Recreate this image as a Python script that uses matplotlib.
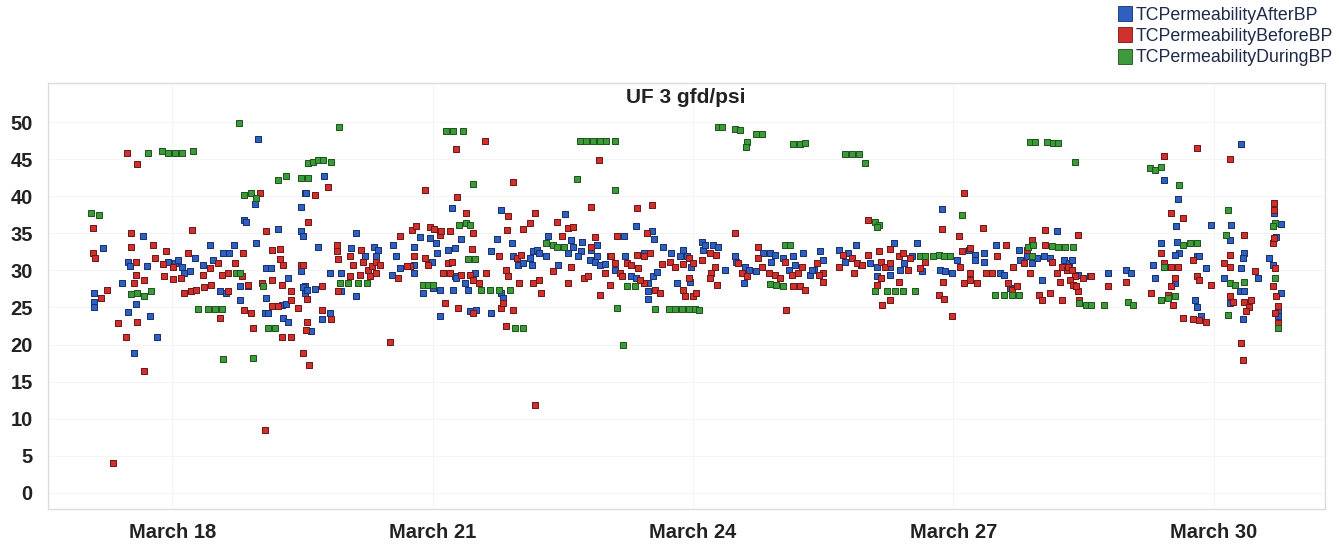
import matplotlib
matplotlib.use("Agg")
import matplotlib.pyplot as plt
from matplotlib.patches import Patch

plt.rcParams["font.family"] = ["Liberation Sans", "DejaVu Sans"]

# ---------------------------------------------------------------------------
# Permeability readings (day of March, gfd/psi)
# ---------------------------------------------------------------------------
after_bp = [
    (18.99, 47.7), (17.20, 33.0), (17.10, 27.0), (17.10, 25.8), (17.10, 25.1),
    (17.42, 28.3), (17.66, 34.7), (17.49, 31.1), (17.51, 30.6), (17.58, 25.5),
    (17.49, 24.4), (17.75, 23.9), (17.56, 18.9), (17.83, 21.0), (17.71, 30.6),
    (17.95, 31.2), (18.03, 31.0), (18.07, 31.45), (18.11, 30.5), (18.14, 29.7),
    (18.20, 29.9), (18.26, 31.7), (18.35, 30.8), (18.44, 33.5), (18.47, 31.4),
    (18.59, 32.4), (18.66, 32.4), (18.71, 33.5), (18.55, 27.2), (18.62, 27.0),
    (18.78, 27.9), (18.78, 26.0), (18.87, 27.9), (18.97, 33.7), (18.83, 36.8),
    (18.85, 36.6), (18.95, 39.0), (19.08, 26.3), (19.07, 24.3), (19.10, 24.3),
    (19.08, 30.3), (19.14, 30.3), (19.22, 35.6), (19.26, 25.4), (19.31, 25.5),
    (19.28, 23.6), (19.33, 23.1), (19.33, 29.0), (19.49, 35.3), (19.51, 34.6),
    (19.49, 38.6), (19.53, 40.4), (19.49, 29.9), (19.53, 27.9), (19.53, 27.0),
    (19.75, 42.8), (19.54, 40.4), (19.68, 33.2), (19.82, 29.7), (19.51, 27.8),
    (19.55, 27.4), (19.64, 27.5), (19.73, 23.4), (19.82, 24.2), (19.60, 21.8),
    (20.12, 35.0), (20.06, 33.0), (19.95, 29.7), (19.95, 27.2), (20.12, 26.5),
    (20.22, 31.9), (20.33, 33.2), (20.37, 32.8), (20.35, 31.9), (20.54, 33.5),
    (20.53, 29.4), (20.62, 30.3), (20.58, 31.9), (20.79, 33.2), (20.86, 34.5),
    (20.97, 34.4), (21.04, 33.7), (20.79, 30.8), (20.79, 29.7), (20.99, 31.2),
    (21.05, 32.3), (20.89, 26.95), (21.00, 27.6), (21.08, 27.4), (21.09, 23.9),
    (21.22, 38.4), (21.18, 32.8), (21.26, 33.0), (21.33, 34.2), (21.26, 29.2),
    (21.27, 29.0), (21.37, 28.3), (21.41, 27.4), (21.49, 29.6), (21.24, 27.4),
    (21.43, 24.5), (21.50, 24.7), (21.67, 24.2), (21.67, 32.6), (21.74, 34.2),
    (21.79, 38.2), (21.91, 33.7), (21.79, 27.0), (21.81, 26.3), (21.93, 31.9),
    (21.98, 30.8), (22.04, 31.0), (22.12, 31.7), (22.16, 32.6), (22.20, 32.8),
    (22.23, 32.4), (22.31, 31.9), (22.33, 34.7), (22.45, 30.8), (22.14, 30.8),
    (22.53, 37.6), (22.60, 34.1), (22.72, 33.9), (22.71, 32.6), (22.68, 31.9),
    (22.56, 32.4), (22.62, 33.2), (22.89, 33.5), (22.83, 32.8), (22.81, 31.45),
    (22.87, 31.2), (22.93, 30.8), (22.89, 31.9), (22.99, 30.9), (23.04, 31.9),
    (23.21, 34.7), (23.34, 36.0), (23.22, 32.0), (23.10, 30.1), (23.29, 29.2),
    (23.34, 29.0), (23.43, 32.3), (23.48, 28.3), (23.54, 29.2), (23.58, 29.8),
    (23.48, 27.2), (23.48, 26.1), (23.53, 35.3), (23.55, 34.2), (23.65, 33.2),
    (23.75, 32.3), (23.85, 31.9), (23.89, 32.8), (23.93, 31.9), (23.98, 30.5),
    (24.10, 33.9), (24.12, 32.8), (24.14, 33.5), (24.23, 33.5), (24.29, 33.2),
    (24.37, 30.1), (23.82, 28.3), (23.96, 28.5), (24.48, 31.9), (24.50, 31.2),
    (24.60, 30.5), (24.64, 30.1), (24.59, 28.3), (24.73, 29.9), (24.81, 32.3),
    (24.89, 32.3), (24.94, 32.1), (24.90, 31.2), (25.04, 31.7), (25.10, 30.1),
    (25.15, 31.9), (25.17, 30.8), (25.27, 32.4), (25.35, 29.4), (25.39, 30.1),
    (25.37, 30.1), (25.46, 32.6), (25.50, 31.45), (25.68, 32.8), (25.75, 31.2),
    (25.79, 32.3), (25.93, 30.8), (25.88, 33.5), (26.04, 31.0), (26.12, 30.5),
    (26.12, 29.2), (26.27, 29.4), (26.27, 30.5), (26.31, 33.7), (26.39, 30.1),
    (26.52, 31.9), (26.58, 33.7), (26.64, 29.9), (26.43, 31.0), (26.62, 31.9),
    (26.87, 38.3), (26.85, 30.1), (26.90, 29.9), (26.98, 29.7), (27.04, 31.45),
    (27.18, 32.8), (27.25, 32.1), (27.35, 32.3), (27.25, 31.45), (27.35, 31.2),
    (27.49, 33.5), (27.54, 29.7), (27.58, 29.4), (27.65, 27.6), (27.75, 32.8),
    (27.77, 31.45), (27.85, 31.9), (27.90, 31.0), (27.96, 31.7), (28.02, 28.7),
    (28.04, 31.9), (28.11, 31.7), (28.19, 35.3), (28.27, 31.45), (28.33, 31.0),
    (28.43, 29.4), (28.36, 31.45), (28.57, 29.3), (28.78, 29.6), (28.99, 30.1),
    (29.05, 29.6), (29.42, 42.2), (29.59, 39.6), (29.56, 36.0), (29.39, 33.7),
    (29.57, 33.9), (29.60, 32.3), (29.55, 32.1), (29.30, 30.8), (29.32, 29.0),
    (29.45, 30.5), (29.80, 31.9), (29.83, 31.9), (29.91, 30.3), (29.55, 28.3),
    (29.78, 26.05), (29.80, 25.1), (29.85, 23.8), (29.97, 36.2), (30.20, 36.2),
    (30.18, 34.1), (30.12, 29.0), (30.35, 32.3), (30.33, 31.7), (30.31, 30.3),
    (30.30, 27.2), (30.35, 27.2), (30.33, 23.4), (30.18, 25.6), (30.51, 29.0),
    (30.31, 47.0), (30.69, 37.7), (30.77, 36.3), (30.72, 34.5), (30.64, 31.7),
    (30.68, 30.8), (30.77, 27.0), (30.74, 24.7), (30.74, 23.8),
]

before_bp = [
    (17.32, 4.0), (19.07, 8.4), (17.48, 45.9), (17.60, 44.4), (17.09, 35.7),
    (17.09, 32.3), (17.11, 31.7), (17.18, 26.3), (17.25, 27.4), (17.53, 35.0),
    (17.53, 33.2), (17.78, 33.5), (17.58, 31.1), (17.58, 29.4), (17.68, 28.7),
    (17.56, 28.3), (17.59, 23.1), (17.47, 21.0), (17.38, 22.9), (17.68, 16.4),
    (17.80, 31.7), (17.89, 30.9), (17.93, 32.6), (18.01, 30.5), (18.10, 29.0),
    (17.91, 29.2), (18.01, 28.8), (18.18, 32.3), (18.23, 35.5), (18.14, 27.0),
    (18.22, 27.2), (18.28, 27.4), (18.35, 29.4), (18.44, 30.3), (18.37, 27.8),
    (18.45, 28.1), (18.53, 31.0), (18.57, 29.4), (18.64, 29.7), (18.55, 23.6),
    (18.64, 27.2), (18.72, 31.0), (18.82, 32.3), (18.80, 29.2), (18.87, 28.1),
    (18.83, 24.7), (18.91, 24.2), (18.93, 22.2), (19.01, 40.4), (19.08, 35.3),
    (19.15, 32.7), (19.24, 32.9), (19.24, 31.5), (19.03, 28.3), (19.15, 28.7),
    (19.26, 28.1), (19.28, 30.8), (19.15, 25.2), (19.22, 25.2), (19.26, 21.0),
    (19.37, 21.0), (19.37, 27.2), (19.37, 26.0), (19.45, 24.9), (19.48, 30.8),
    (19.51, 18.9), (19.65, 40.2), (19.79, 41.3), (19.57, 36.5), (19.51, 30.8),
    (19.55, 23.1), (19.54, 22.0), (19.58, 17.3), (19.55, 26.1), (19.73, 27.9),
    (19.73, 24.7), (19.83, 23.4), (19.90, 33.5), (19.90, 32.6), (19.91, 31.5),
    (19.91, 27.2), (20.05, 32.0), (20.08, 30.8), (20.18, 32.8), (20.20, 31.2),
    (20.26, 30.1), (20.30, 30.6), (20.35, 31.2), (20.39, 30.8), (20.05, 29.2),
    (20.16, 29.4), (20.28, 29.2), (20.35, 29.7), (20.62, 34.7), (20.76, 35.5),
    (20.81, 36.0), (20.91, 40.8), (20.74, 30.6), (20.79, 31.9), (20.91, 31.7),
    (20.97, 35.9), (21.02, 35.6), (21.08, 34.8), (21.10, 35.3), (20.60, 29.0),
    (20.70, 30.6), (20.95, 30.8), (21.14, 25.6), (21.18, 31.0), (21.22, 31.1),
    (21.20, 35.3), (21.27, 46.4), (21.60, 47.5), (21.28, 39.9), (21.39, 37.8),
    (21.46, 35.0), (21.45, 32.9), (21.12, 29.6), (21.20, 29.6), (21.33, 29.4),
    (21.43, 29.4), (21.47, 28.7), (21.54, 28.3), (21.62, 29.6), (21.29, 24.9),
    (21.47, 24.2), (21.85, 22.5), (21.93, 24.7), (21.79, 24.9), (21.81, 25.6),
    (21.93, 42.0), (21.87, 37.4), (21.86, 35.5), (22.04, 35.6), (22.12, 36.4),
    (22.18, 37.7), (21.77, 31.9), (21.85, 30.1), (21.97, 31.7), (22.02, 32.1),
    (21.87, 29.2), (22.00, 28.3), (22.16, 28.3), (22.23, 28.7), (22.25, 26.95),
    (22.39, 29.9), (22.43, 36.6), (22.18, 11.9), (20.51, 20.4),
    (22.92, 44.9), (22.83, 38.6), (23.36, 38.4), (23.53, 38.9), (22.56, 35.7),
    (22.62, 35.9), (22.49, 34.6), (22.83, 33.2), (22.87, 34.5), (23.12, 34.7),
    (23.47, 35.0), (23.35, 32.1), (22.60, 30.5), (22.56, 28.3), (22.75, 29.0),
    (22.79, 29.2), (22.99, 29.7), (23.04, 28.1), (23.06, 31.9), (22.93, 26.7),
    (23.10, 31.0), (23.16, 29.7), (23.24, 31.0), (23.29, 30.8), (23.18, 29.2),
    (23.37, 30.3), (23.43, 31.9), (23.50, 32.3), (23.43, 28.3), (23.56, 27.4),
    (23.62, 27.0), (23.39, 28.7), (23.64, 30.9), (23.73, 31.2), (23.79, 30.5),
    (23.89, 30.9), (23.95, 31.7), (24.00, 31.0), (23.89, 27.4), (23.95, 29.0),
    (23.91, 26.5), (24.00, 26.5), (24.04, 26.95), (24.10, 31.45), (24.20, 32.3),
    (24.27, 32.1), (24.21, 29.7), (24.20, 29.0), (24.25, 30.5), (24.28, 28.1),
    (24.48, 35.0), (24.52, 31.0), (24.56, 29.7), (24.62, 29.2), (24.75, 33.2),
    (24.75, 31.7), (24.79, 30.5), (24.87, 29.7), (24.94, 29.4), (25.00, 29.0),
    (25.06, 31.2), (25.14, 29.4), (25.21, 29.7), (25.25, 30.5), (25.23, 27.9),
    (25.29, 27.4), (25.15, 27.9), (25.07, 24.6),
    (26.01, 36.8), (25.43, 31.0), (25.50, 29.7), (25.50, 28.5), (25.45, 29.4),
    (25.68, 30.5), (25.73, 32.1), (25.83, 31.7), (25.89, 31.0), (25.85, 29.7),
    (25.95, 30.8), (26.01, 32.1), (26.14, 32.6), (26.16, 31.2), (26.12, 28.1),
    (26.16, 29.0), (26.18, 25.4), (26.27, 26.05), (26.21, 30.5), (26.27, 31.0),
    (26.27, 32.9), (26.37, 31.9), (26.37, 28.5), (26.42, 32.3), (26.48, 30.1),
    (26.50, 31.7), (26.62, 30.3), (26.67, 31.1), (26.87, 35.6), (26.83, 26.7),
    (26.89, 26.1), (26.88, 28.5), (27.06, 34.7), (27.12, 40.4), (26.98, 23.8),
    (27.10, 32.6), (27.19, 33.0), (27.08, 30.5), (27.19, 29.7), (27.12, 28.3),
    (27.19, 28.7), (27.27, 28.3), (27.34, 35.7), (27.37, 29.7), (27.44, 29.7),
    (27.50, 31.9), (27.61, 33.5), (27.63, 28.3), (27.67, 27.4), (27.73, 27.9),
    (27.69, 30.5), (27.81, 31.0), (27.85, 32.8), (27.90, 34.1), (27.88, 29.6),
    (27.98, 26.7), (28.02, 26.05), (28.11, 26.95), (28.06, 35.5), (28.06, 33.5),
    (28.13, 31.2), (28.19, 29.7), (28.25, 30.5), (28.23, 28.5), (28.25, 26.0),
    (28.31, 30.1),
    (28.43, 34.8), (28.32, 30.5), (28.36, 30.1), (28.40, 29.2), (28.34, 28.7),
    (28.38, 28.1), (28.43, 27.2), (28.45, 26.05), (28.41, 27.9), (28.49, 29.0),
    (28.59, 29.2), (28.78, 27.9), (28.99, 28.5), (29.28, 27.0), (29.42, 45.5),
    (29.51, 37.7), (29.64, 37.1), (29.39, 32.3), (29.43, 31.0), (29.51, 30.5),
    (29.59, 30.5), (29.55, 29.0), (29.51, 27.9), (29.47, 26.7), (29.53, 25.4),
    (29.76, 31.45), (29.80, 29.2), (29.83, 28.7), (29.64, 23.6), (29.76, 23.4),
    (29.83, 23.3), (29.91, 23.1), (29.80, 46.5), (30.18, 45.0), (29.97, 28.1),
    (30.18, 32.1), (30.12, 31.0), (30.18, 30.5), (30.35, 34.8), (30.18, 26.5),
    (30.22, 25.8), (30.35, 25.8), (30.43, 26.05), (30.41, 25.1), (30.37, 24.5),
    (30.31, 20.2), (30.33, 17.9), (30.47, 29.9), (30.69, 39.1), (30.69, 38.2),
    (30.68, 33.7), (30.69, 34.4), (30.70, 30.3), (30.68, 27.9), (30.72, 26.5),
    (30.74, 25.2), (30.70, 24.3), (30.74, 22.9),
]

during_bp = [
    (17.07, 37.7), (17.16, 37.5), (18.77, 49.9), (17.72, 45.9), (17.88, 46.1),
    (17.95, 45.9), (18.03, 45.8), (18.11, 45.8), (18.24, 46.1), (19.22, 42.2),
    (19.31, 42.7), (19.49, 42.5), (19.56, 42.5), (18.83, 40.2), (18.91, 40.4),
    (18.97, 39.8), (17.53, 26.8), (17.59, 26.9), (17.68, 26.5), (17.76, 27.2),
    (18.30, 24.8), (18.41, 24.8), (18.49, 24.8), (18.57, 24.8), (18.59, 18.0),
    (18.93, 18.2), (18.74, 29.7), (18.78, 29.7), (19.05, 27.9), (19.10, 22.2),
    (19.18, 22.2),
    (19.92, 49.3), (19.57, 44.5), (19.62, 44.7), (19.68, 44.85), (19.74, 44.85),
    (19.83, 44.7), (21.16, 48.8), (21.24, 48.8), (21.35, 48.8), (21.46, 41.6),
    (21.31, 36.2), (21.39, 36.4), (21.43, 36.2), (19.93, 28.3), (20.03, 28.3),
    (20.14, 28.3), (20.24, 28.3), (20.89, 28.1), (20.95, 28.1), (21.00, 28.1),
    (21.41, 31.5), (21.49, 31.5), (21.56, 27.4), (21.66, 27.4), (21.77, 27.4),
    (21.89, 27.4), (21.95, 22.2), (22.04, 22.2), (22.31, 33.7), (22.39, 33.5),
    (22.70, 47.5), (22.77, 47.5), (22.85, 47.5), (22.93, 47.5), (23.00, 47.5),
    (23.10, 47.5), (22.66, 42.3), (23.10, 40.9), (22.43, 33.2), (22.51, 33.2),
    (23.24, 27.9), (23.33, 27.9), (23.12, 24.9), (23.19, 19.9), (23.56, 24.8),
    (23.72, 24.8), (23.79, 24.8), (23.87, 24.8), (23.95, 24.8), (24.02, 24.8),
    (24.07, 24.6), (24.29, 49.4), (24.33, 49.4), (24.48, 49.1), (24.54, 48.9),
    (24.62, 47.4), (24.61, 46.7), (24.73, 48.4), (24.79, 48.4), (25.15, 47.1),
    (25.23, 47.0), (25.29, 47.2), (25.06, 33.5), (25.12, 33.5), (24.89, 28.2),
    (24.96, 28.0), (25.04, 27.9),
    (25.75, 45.7), (25.83, 45.7), (25.91, 45.7), (25.98, 44.5), (26.10, 36.6),
    (26.14, 36.2), (26.12, 35.9), (26.10, 27.2), (26.23, 27.2), (26.33, 27.2),
    (26.42, 27.2), (26.56, 27.2), (26.62, 31.9), (26.67, 31.9), (26.77, 31.9),
    (26.83, 32.1), (26.89, 31.9), (26.96, 32.0), (27.10, 37.5), (27.88, 47.4),
    (27.94, 47.4), (28.08, 47.3), (28.15, 47.2), (28.21, 47.2), (27.48, 26.7),
    (27.58, 26.7), (27.67, 26.7), (27.75, 26.7), (27.86, 33.2), (27.92, 33.5),
    (28.13, 33.3), (28.21, 33.2), (28.29, 33.2), (27.90, 31.9),
    (28.40, 44.6), (28.38, 33.2), (28.45, 25.6), (28.53, 25.4), (28.59, 25.4),
    (28.74, 25.4), (29.01, 25.7), (29.07, 25.4), (29.26, 43.8), (29.32, 43.6),
    (29.39, 43.9), (29.60, 41.5), (29.64, 33.5), (29.72, 33.7), (29.80, 33.7),
    (29.43, 30.5), (29.39, 26.05), (29.47, 26.3), (29.55, 26.5), (30.16, 38.2),
    (30.14, 34.8), (30.18, 28.3), (30.24, 28.1), (30.35, 28.5), (30.16, 24.0),
    (30.70, 36.4), (30.68, 36.0), (30.70, 29.0), (30.74, 22.2),
]

SERIES = [
    ("TCPermeabilityAfterBP", after_bp, "#2f5fc0", "#16306e"),
    ("TCPermeabilityBeforeBP", before_bp, "#d0302c", "#6e1616"),
    ("TCPermeabilityDuringBP", during_bp, "#3d9a3a", "#1d5419"),
]

DAY_TICKS = [18, 21, 24, 27, 30]
DAY_LABELS = ["March 18", "March 21", "March 24", "March 27", "March 30"]
Y_TICKS = list(range(0, 51, 5))

W, H = 1339, 545
fig = plt.figure(figsize=(W / 100, H / 100), dpi=100)
ax = fig.add_axes([48 / W, 36 / H, 1277 / W, 426 / H])

for label, pts, fill, edge in SERIES:
    days = [p[0] for p in pts]
    vals = [p[1] for p in pts]
    ax.scatter(days, vals, marker="s", s=22, c=fill, edgecolors=edge,
               linewidths=0.7, zorder=3)

ax.set_xlim(16.57, 31.28)
ax.set_ylim(-2.2, 55.3)
ax.set_xticks(DAY_TICKS)
ax.set_xticklabels(DAY_LABELS)
ax.set_yticks(Y_TICKS)
ax.tick_params(axis="both", length=0, labelsize=14.5, colors="#222222")
ax.tick_params(axis="x", pad=10)
ax.tick_params(axis="y", pad=11)
for t in ax.get_xticklabels() + ax.get_yticklabels():
    t.set_fontweight("bold")

ax.grid(True, color="#f5f5f5", linewidth=0.8, zorder=0)
for side in ax.spines.values():
    side.set_color("#dcdcdc")
    side.set_linewidth(1.0)

ax.text(0.4995, 0.967, "UF 3 gfd/psi", transform=ax.transAxes, ha="center",
        va="center", fontsize=15, fontweight="bold", color="#222222")

handles = [Patch(facecolor=fill, edgecolor=edge, linewidth=0.6)
           for _, _, fill, edge in SERIES]
leg = fig.legend(handles, [s[0] for s in SERIES], loc="upper right",
                 bbox_to_anchor=(1333 / W, 1 - 6 / H), frameon=False,
                 fontsize=12.8, handlelength=0.8, handleheight=0.9,
                 handletextpad=0.2, labelspacing=0.22, borderpad=0,
                 borderaxespad=0)
for t in leg.get_texts():
    t.set_color("#1e2a4a")

fig.savefig("out.png", dpi=100)
